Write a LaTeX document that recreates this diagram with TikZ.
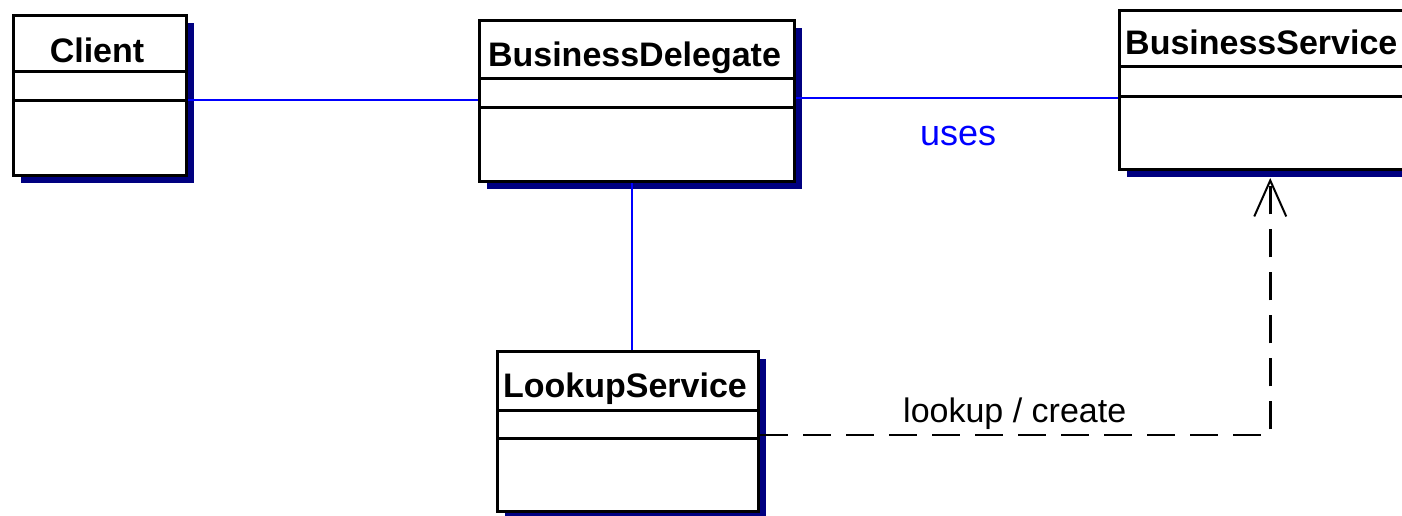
\documentclass[tikz,border=0pt]{standalone}
\usepackage{fontspec}
\setmainfont{Liberation Sans}
\usetikzlibrary{shadows,arrows.meta}
\definecolor{shadowblue}{RGB}{0,0,128}
\definecolor{linkblue}{RGB}{0,0,255}

\begin{document}
\begin{tikzpicture}[x=1pt,y=-1pt]
      \useasboundingbox (0,0) rectangle (1402,515);
      \clip (0,0) rectangle (1402,515);
      \tikzset{C/.style = {draw, line width=3pt, fill=white, anchor=north west, inner sep=0pt,
          drop shadow={shadow xshift=7.5pt, shadow yshift=-7.5pt, fill=shadowblue, opacity=1}}}
      \tikzset{D/.style = {draw, line width=3pt}}
      \tikzset{T/.style = {font=\bfseries\fontsize{34}{40}\selectfont, inner sep=0pt, anchor=base}}
      \tikzset{A/.style = {draw, linkblue, line width=2pt}}
      \tikzset{L/.style = {font=\fontsize{34}{40}\selectfont, inner sep=0pt, anchor=base west}}
      \tikzset{E/.style = {draw, line width=2.5pt, dash pattern=on 28pt off 15pt,
          -{Straight Barb[length=36pt,width=32pt,line width=2pt]}}}
      % class boxes
      \node[C, minimum width=173pt, minimum height=160pt](client) at (12,14) {};
      \node[C, minimum width=315pt, minimum height=161pt](delegate) at (478,19) {};
      \node[C, minimum width=301.5pt, minimum height=159pt](service) at (1118,9) {};
      \node[C, minimum width=261pt, minimum height=160pt](lookup) at (496,350) {};
      \draw[D](client.west |- 0,71) to (client.east |- 0,71);
      \draw[D](client.west |- 0,100) to (client.east |- 0,100);
      \draw[D](delegate.west |- 0,78) to (delegate.east |- 0,78);
      \draw[D](delegate.west |- 0,107) to (delegate.east |- 0,107);
      \draw[D](service.west |- 0,66) to (service.east |- 0,66);
      \draw[D](service.west |- 0,96) to (service.east |- 0,96);
      \draw[D](lookup.west |- 0,410) to (lookup.east |- 0,410);
      \draw[D](lookup.west |- 0,438) to (lookup.east |- 0,438);
      % class names
      \node[T](clientname) at (97,62) {Client};
      \node[T](delegatename) at (634.5,66) {BusinessDelegate};
      \node[T,anchor=base west](servicename) at (1125,54) {BusinessService};
      \node[T](lookupname) at (625,397) {LookupService};
      % connectors
      \draw[A](client.east |- 0,100) to (delegate.west |- 0,100);
      \draw[A](delegate.east |- 0,98) to (service.west |- 0,98);
      \draw[A](delegate.south -| 632,0) to (lookup.north -| 632,0);
      \draw[E](lookup.east |- 0,435) -| ([yshift=-7pt]service.south);
      \node[L,text=linkblue,font=\fontsize{36}{40}\selectfont](uses) at (920,145) {uses};
      \node[L](lookupcreate) at (903,422) {lookup / create};
    \end{tikzpicture}
\end{document}
